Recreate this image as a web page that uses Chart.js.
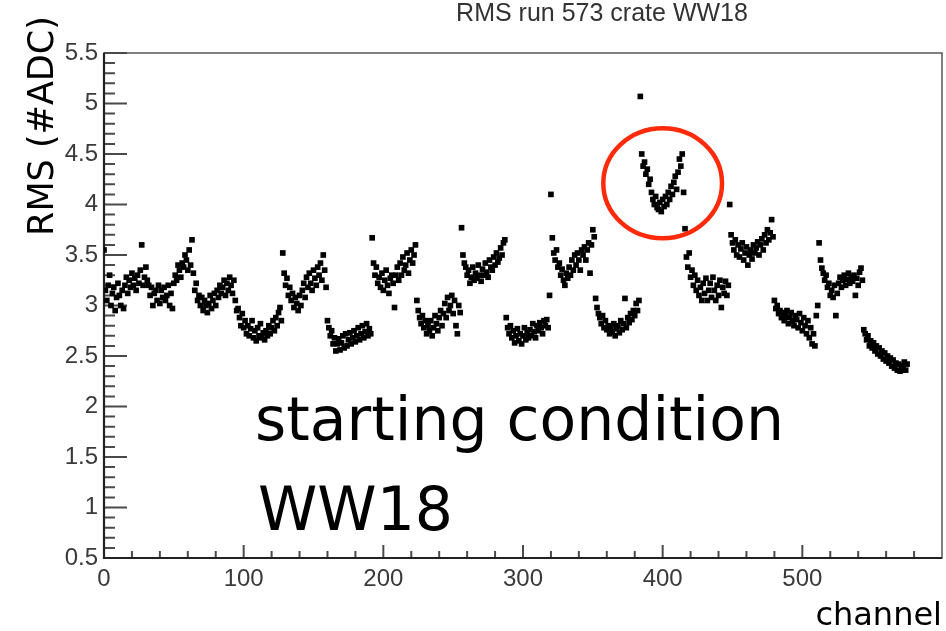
<!DOCTYPE html>
<html>
<head>
<meta charset="utf-8">
<script src="https://cdn.jsdelivr.net/npm/chart.js@4.4.1/dist/chart.umd.min.js"></script>
<style>
  html, body { margin: 0; padding: 0; background: #fff; }
</style>
</head>
<body>
<canvas id="rmsChart" width="946" height="631"></canvas>
<script>
// texts
const chartTitle = 'RMS run 573 crate WW18';
const xTitle = 'channel';
const yTitle = 'RMS (#ADC)';
const noteLines = ['starting condition', 'WW18'];

// axes
const xRange = [0, 600];
const yRange = [0.5, 5.5];
const xTicks = [0, 100, 200, 300, 400, 500];
const yTicks = [0.5, 1, 1.5, 2, 2.5, 3, 3.5, 4, 4.5, 5, 5.5];
const yTickLabels = ['0.5', '1', '1.5', '2', '2.5', '3', '3.5', '4', '4.5', '5', '5.5'];

// RMS per channel, 18 blocks of 32 channels
const channelsPerBlock = 32;
const rmsPerBlock = [
    [3.55, 3.15, 3.05, 3.2, 3.3, 3.0, 3.12, 3.18, 2.95, 3.08, 3.22, 3.1, 3.0, 3.15, 2.97, 3.2, 3.28, 3.12, 3.25, 3.18, 3.32, 3.2, 3.27, 3.15, 3.3, 3.22, 3.35, 3.6, 3.2, 3.28, 3.38, 3.25],
    [3.2, 3.1, 3.18, 3.0, 3.12, 3.15, 3.05, 3.2, 3.02, 3.15, 3.08, 3.18, 3.05, 3.1, 3.2, 3.0, 3.12, 2.97, 3.22, 3.3, 3.25, 3.4, 3.35, 3.28, 3.42, 3.38, 3.5, 3.45, 3.35, 3.55, 3.4, 3.65],
    [3.32, 3.15, 3.22, 3.05, 3.1, 3.0, 3.08, 2.95, 3.05, 3.0, 2.93, 3.02, 3.1, 2.97, 3.05, 3.12, 3.0, 3.15, 3.08, 3.2, 3.12, 3.18, 3.25, 3.1, 3.22, 3.15, 3.28, 3.2, 3.12, 3.25, 3.05, 2.95],
    [2.97, 2.88, 2.8, 2.92, 2.78, 2.85, 2.72, 2.8, 2.7, 2.77, 2.85, 2.68, 2.75, 2.65, 2.78, 2.7, 2.82, 2.68, 2.73, 2.66, 2.75, 2.7, 2.8, 2.72, 2.78, 2.85, 2.75, 2.88, 2.8, 2.93, 2.98, 2.85],
    [3.52, 3.32, 3.2, 3.27, 3.1, 3.18, 3.05, 3.12, 2.98, 3.08, 3.02, 2.95, 3.1, 3.0, 3.15, 3.22, 3.08, 3.28, 3.18, 3.32, 3.22, 3.15, 3.35, 3.27, 3.2, 3.38, 3.3, 3.42, 3.25, 3.5, 3.35, 3.18],
    [2.85, 2.78, 2.7, 2.75, 2.62, 2.68, 2.55, 2.62, 2.67, 2.56, 2.63, 2.7, 2.58, 2.72, 2.6, 2.66, 2.73, 2.62, 2.68, 2.75, 2.64, 2.7, 2.78, 2.66, 2.72, 2.8, 2.68, 2.74, 2.82, 2.7, 2.77, 2.72],
    [3.67, 3.42, 3.3, 3.38, 3.22, 3.28, 3.18, 3.32, 3.15, 3.25, 3.35, 3.2, 3.12, 3.27, 3.3, 3.22, 2.98, 3.3, 3.38, 3.25, 3.42, 3.3, 3.48, 3.35, 3.4, 3.52, 3.32, 3.45, 3.55, 3.42, 3.5, 3.6],
    [3.05, 2.95, 2.88, 2.82, 2.9, 2.78, 2.85, 2.72, 2.8, 2.75, 2.85, 2.7, 2.78, 2.9, 2.82, 2.75, 2.88, 2.95, 2.8, 2.92, 3.02, 2.88, 3.08, 2.95, 3.0, 3.1, 2.92, 3.05, 2.8, 2.72, 3.0, 2.93],
    [3.77, 3.5, 3.42, 3.38, 3.3, 3.35, 3.22, 3.28, 3.38, 3.25, 3.32, 3.27, 3.4, 3.3, 3.24, 3.36, 3.3, 3.42, 3.33, 3.28, 3.45, 3.38, 3.35, 3.48, 3.4, 3.52, 3.43, 3.47, 3.57, 3.5, 3.62, 3.65],
    [2.88, 2.78, 2.72, 2.8, 2.68, 2.75, 2.63, 2.7, 2.77, 2.65, 2.72, 2.62, 2.7, 2.78, 2.66, 2.73, 2.68, 2.76, 2.7, 2.82, 2.74, 2.68, 2.8, 2.75, 2.83, 2.78, 2.72, 2.85, 2.8, 2.86, 2.78, 3.1],
    [4.1, 3.67, 3.52, 3.45, 3.55, 3.38, 3.42, 3.3, 3.36, 3.25, 3.2, 3.32, 3.27, 3.38, 3.3, 3.45, 3.35, 3.5, 3.4, 3.52, 3.45, 3.35, 3.55, 3.5, 3.58, 3.45, 3.55, 3.62, 3.32, 3.6, 3.75, 3.68],
    [3.07, 2.98, 2.92, 2.88, 2.82, 2.9, 2.78, 2.85, 2.76, 2.8, 2.72, 2.78, 2.74, 2.82, 2.7, 2.77, 2.8, 2.73, 2.85, 2.76, 2.82, 3.07, 2.78, 2.88, 2.83, 2.92, 2.86, 2.95, 2.9, 3.02, 2.95, 3.05],
    [5.07, 4.5, 4.38, 4.42, 4.3, 4.35, 4.2, 4.25, 4.12, 4.05, 4.0, 4.08, 3.97, 3.95, 4.02, 3.93, 4.05, 3.98, 4.08, 4.0, 4.12, 4.05, 4.18, 4.1, 4.22, 4.28, 4.15, 4.32, 4.45, 4.38, 4.5, 4.12],
    [3.76, 3.48, 3.38, 3.52, 3.28, 3.35, 3.2, 3.3, 3.15, 3.25, 3.1, 3.18, 3.05, 3.22, 3.12, 3.27, 3.05, 3.15, 3.22, 3.08, 3.28, 3.15, 3.05, 3.2, 3.1, 3.25, 2.98, 3.18, 3.12, 3.24, 3.1, 3.2],
    [4.0, 3.7, 3.62, 3.55, 3.65, 3.5, 3.6, 3.48, 3.56, 3.62, 3.45, 3.52, 3.58, 3.4, 3.5, 3.55, 3.46, 3.6, 3.52, 3.57, 3.63, 3.5, 3.6, 3.66, 3.55, 3.7, 3.62, 3.75, 3.65, 3.72, 3.85, 3.68],
    [3.05, 2.97, 3.0, 2.92, 2.95, 2.88, 2.93, 2.85, 2.9, 2.95, 2.82, 2.88, 2.93, 2.85, 2.8, 2.9, 2.86, 2.78, 2.92, 2.83, 2.75, 2.88, 2.8, 2.72, 2.85, 2.68, 2.78, 2.62, 2.72, 2.6, 2.9, 3.0],
    [3.62, 3.45, 3.37, 3.32, 3.25, 3.3, 3.18, 3.22, 3.1, 3.15, 3.08, 3.2, 2.9, 3.12, 3.22, 3.28, 3.18, 3.25, 3.3, 3.2, 3.26, 3.32, 3.22, 3.28, 3.24, 3.3, 3.1, 3.27, 3.2, 3.33, 3.37, 3.25],
    [2.76, 2.72, 2.66, 2.7, 2.6, 2.65, 2.58, 2.63, 2.55, 2.6, 2.52, 2.58, 2.5, 2.55, 2.47, 2.53, 2.45, 2.5, 2.43, 2.48, 2.4, 2.46, 2.38, 2.43, 2.36, 2.42, 2.35, 2.4, 2.38, 2.44, 2.36, 2.42]
];

// red ring drawn around the noisy block (in data units)
const circled = { channel: 400, rms: 4.21, dChannel: 42.5, dRms: 0.545 };

const points = [];
rmsPerBlock.forEach((block, b) => {
    block.forEach((v, i) => points.push({ x: b * channelsPerBlock + i, y: v }));
});

const tickFont = { family: '"Liberation Sans", Arial, sans-serif', size: 24 };
const handFont = '"Comic Sans MS", "DejaVu Sans", sans-serif';

// ROOT style frame: ticks drawn inside the box
const rootFrame = {
    id: 'rootFrame',
    beforeDatasetsDraw(chart) {
        const { ctx, chartArea: a, scales: { x, y } } = chart;
        ctx.save();
        ctx.strokeStyle = '#555';
        ctx.lineWidth = 1.5;
        ctx.strokeRect(a.left, a.top, a.right - a.left, a.bottom - a.top);

        ctx.strokeStyle = '#4a4a4a';
        ctx.lineWidth = 2;
        ctx.beginPath();
        for (let i = 0; i <= 50; i++) {
            const py = y.getPixelForValue(yRange[0] + i * 0.1);
            const len = i % 5 === 0 ? 23 : 11;
            ctx.moveTo(a.left, py);
            ctx.lineTo(a.left + len, py);
        }
        for (let v = 0; v < xRange[1]; v += 20) {
            const px = x.getPixelForValue(v);
            const len = v % 100 === 0 ? 13 : 7;
            ctx.moveTo(px, a.bottom);
            ctx.lineTo(px, a.bottom - len);
        }
        ctx.stroke();

        ctx.strokeStyle = '#222';
        ctx.lineWidth = 2.2;
        ctx.beginPath();
        ctx.moveTo(a.left, a.top);
        ctx.lineTo(a.left, a.bottom);
        ctx.lineTo(a.right, a.bottom);
        ctx.stroke();
        ctx.restore();
    },
    afterDatasetsDraw(chart) {
        const { ctx, scales: { x, y } } = chart;
        ctx.save();

        // title
        ctx.fillStyle = '#333';
        ctx.font = '25px "Liberation Sans", Arial, sans-serif';
        ctx.textAlign = 'center';
        ctx.textBaseline = 'alphabetic';
        ctx.fillText(chartTitle, 602, 21);

        // red ring
        const cx = x.getPixelForValue(circled.channel);
        const cy = y.getPixelForValue(circled.rms);
        const rx = x.getPixelForValue(circled.channel + circled.dChannel) - cx;
        const ry = cy - y.getPixelForValue(circled.rms + circled.dRms);
        ctx.strokeStyle = '#ff2a0a';
        ctx.lineWidth = 4.5;
        ctx.beginPath();
        ctx.ellipse(cx, cy, rx, ry, 0, 0, Math.PI * 2);
        ctx.stroke();

        // hand written labels
        ctx.fillStyle = '#000';
        ctx.font = '60px ' + handFont;
        ctx.textAlign = 'left';
        ctx.fillText(noteLines[0], 255, 440);
        ctx.fillText(noteLines[1], 258, 530);

        ctx.font = '32px ' + handFont;
        ctx.textAlign = 'right';
        ctx.fillText(xTitle, 942, 625);

        ctx.translate(44, 126);
        ctx.rotate(-Math.PI / 2);
        ctx.font = '35px ' + handFont;
        ctx.textAlign = 'center';
        ctx.textBaseline = 'middle';
        ctx.fillText(yTitle, 0, 0);
        ctx.restore();
    }
};

new Chart(document.getElementById('rmsChart'), {
    type: 'scatter',
    data: {
        datasets: [{
            data: points,
            pointStyle: 'rect',
            pointRadius: 4,
            pointHoverRadius: 4,
            backgroundColor: '#000',
            borderWidth: 0
        }]
    },
    options: {
        responsive: false,
        animation: false,
        layout: { padding: { top: 53, right: 4, left: 0, bottom: 0 } },
        plugins: { legend: { display: false }, tooltip: { enabled: false } },
        scales: {
            x: {
                type: 'linear',
                min: xRange[0],
                max: xRange[1],
                grid: { display: false, drawTicks: false },
                border: { display: false },
                afterBuildTicks: s => { s.ticks = xTicks.map(v => ({ value: v })); },
                afterFit: s => { s.height = 73; },
                ticks: { autoSkip: false, maxRotation: 0, padding: 7, color: '#3a3a3a', font: tickFont }
            },
            y: {
                type: 'linear',
                min: yRange[0],
                max: yRange[1],
                grid: { display: false, drawTicks: false },
                border: { display: false },
                afterBuildTicks: s => { s.ticks = yTicks.map(v => ({ value: v })); },
                afterFit: s => { s.width = 104; },
                ticks: {
                    autoSkip: false, padding: 6, color: '#3a3a3a', font: tickFont,
                    callback: (v, i) => yTickLabels[i]
                }
            }
        }
    },
    plugins: [rootFrame]
});
</script>
</body>
</html>
